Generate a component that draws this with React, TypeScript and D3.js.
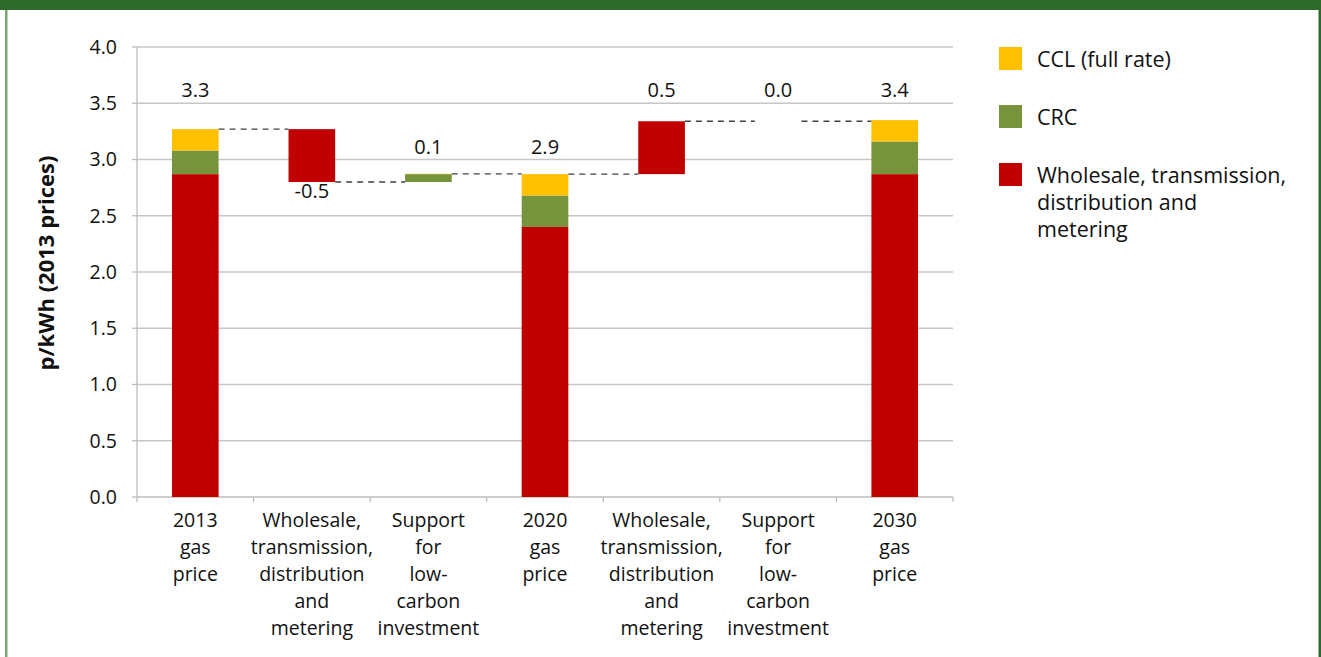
import { useEffect } from 'react';
import * as d3 from 'd3';

// categories (label lines) and bar types
const categories: string[][] = [
  ['2013', 'gas', 'price'],
  ['Wholesale,', 'transmission,', 'distribution', 'and', 'metering'],
  ['Support', 'for', 'low-', 'carbon', 'investment'],
  ['2020', 'gas', 'price'],
  ['Wholesale,', 'transmission,', 'distribution', 'and', 'metering'],
  ['Support', 'for', 'low-', 'carbon', 'investment'],
  ['2030', 'gas', 'price'],
];
const barKind = ['total', 'delta', 'delta', 'total', 'delta', 'delta', 'total'];

// series values (p/kWh, 2013 prices); for delta bars these are changes
const wholesaleValues = [2.87, -0.47, 0, 2.40, 0.47, 0, 2.87];
const crcValues = [0.21, 0, 0.07, 0.28, 0, 0, 0.29];
const cclValues = [0.19, 0, 0.003, 0.19, 0, 0, 0.19];

const valueLabels = ['3.3', '-0.5', '0.1', '2.9', '0.5', '0.0', '3.4'];
const labelAt = [3.62, 2.72, 3.11, 3.11, 3.62, 3.62, 3.62];

const yTicks = [0, 0.5, 1.0, 1.5, 2.0, 2.5, 3.0, 3.5, 4.0];

const seriesNames = ['CCL (full rate)', 'CRC', 'Wholesale, transmission, distribution and metering'];
const legendLines = [['CCL (full rate)'], ['CRC'], ['Wholesale, transmission,', 'distribution and', 'metering']];
const colors = ['#FFC000', '#77933C', '#C00000'];

const W = 1321;
const H = 657;
const FONT = '"Open Sans", sans-serif';

export default function App() {
  useEffect(() => {
    document.body.style.margin = '0';
  }, []);

  const x = d3.scaleBand<number>()
    .domain(d3.range(categories.length))
    .range([137, 953])
    .paddingInner(0.6)
    .paddingOuter(0.3);
  const band = (953 - 137) / categories.length;
  const y = d3.scaleLinear().domain([0, 4]).range([497, 47]);

  // build segments: stacked for totals, floating for deltas
  type Seg = { i: number; y0: number; y1: number; color: string };
  const segs: Seg[] = [];
  const levels: number[] = [];
  let level = 0;
  categories.forEach((_, i) => {
    const parts = [wholesaleValues[i], crcValues[i], cclValues[i]];
    const cols = [colors[2], colors[1], colors[0]];
    let acc = barKind[i] === 'total' ? 0 : level;
    parts.forEach((v, k) => {
      if (v !== 0) segs.push({ i, y0: acc, y1: acc + v, color: cols[k] });
      acc += v;
    });
    level = acc;
    levels.push(level);
  });

  const bw = x.bandwidth();

  return (
    <svg width={W} height={H} style={{ position: 'absolute', left: 0, top: 0, display: 'block' }} fontFamily={FONT}>
      <rect x={0} y={0} width={W} height={H} fill="#ffffff" />
      {/* frame */}
      <rect x={0} y={0} width={W} height={10} fill="#2d6a2b" />
      <rect x={5} y={10} width={2.5} height={H - 10} fill="#79a571" />
      <rect x={1318.5} y={10} width={2.5} height={H - 10} fill="#2d6a2b" />

      {/* gridlines */}
      {yTicks.filter(t => t > 0).map(t => (
        <line key={t} x1={137} x2={953} y1={y(t)} y2={y(t)} stroke="#c6c6c6" strokeWidth={1.3} />
      ))}
      {/* y axis */}
      <line x1={137} x2={137} y1={y(4)} y2={y(0)} stroke="#bdbdbd" strokeWidth={1.3} />
      {yTicks.map(t => (
        <g key={'yt' + t}>
          <line x1={132} x2={137} y1={y(t)} y2={y(t)} stroke="#bdbdbd" strokeWidth={1.3} />
          <text x={117} y={y(t)} dy="0.35em" textAnchor="end" fontSize={19.5} fill="#111">{d3.format('.1f')(t)}</text>
        </g>
      ))}
      {/* x axis */}
      <line x1={137} x2={953} y1={y(0)} y2={y(0)} stroke="#bdbdbd" strokeWidth={1.3} />
      {d3.range(categories.length + 1).map(k => (
        <line key={'xt' + k} x1={137 + k * band} x2={137 + k * band} y1={y(0)} y2={y(0) + 5} stroke="#bdbdbd" strokeWidth={1.3} />
      ))}

      {/* bars */}
      {segs.map((s, k) => (
        <rect key={'s' + k}
          x={x(s.i)!}
          y={y(Math.max(s.y0, s.y1))}
          width={bw}
          height={Math.abs(y(s.y0) - y(s.y1))}
          fill={s.color} />
      ))}

      {/* connectors */}
      {levels.slice(0, -1).map((lv, i) => (
        <line key={'c' + i}
          x1={x(i)! + bw} x2={x(i + 1)!}
          y1={y(lv)} y2={y(lv)}
          stroke="#404040" strokeWidth={1.3} strokeDasharray="6,5" />
      ))}

      {/* value labels */}
      {valueLabels.map((lab, i) => (
        <text key={'v' + i} x={x(i)! + bw / 2} y={y(labelAt[i])} dy="0.35em" textAnchor="middle" fontSize={20} fill="#111">{lab}</text>
      ))}

      {/* category labels */}
      {categories.map((lines, i) => (
        <text key={'cat' + i} x={x(i)! + bw / 2} y={520} textAnchor="middle" fontSize={19.5} fill="#111">
          {lines.map((ln, j) => (
            <tspan key={j} x={x(i)! + bw / 2} y={520 + j * 27} dy="0.35em">{ln}</tspan>
          ))}
        </text>
      ))}

      {/* y title */}
      <text transform={`translate(46,${263}) rotate(-90)`} textAnchor="middle" dy="0.35em" fontSize={22} fontWeight="bold" fill="#111">p/kWh (2013 prices)</text>

      {/* legend */}
      {seriesNames.map((name, k) => (
        <g key={name} transform={`translate(999,${47 + k * 58})`}>
          <rect x={0} y={0} width={23} height={23} fill={colors[k]} />
          <text x={38} y={12} fontSize={21.5} fill="#111">
            {legendLines[k].map((ln, j) => (
              <tspan key={j} x={38} y={12 + j * 27} dy="0.35em">{ln}</tspan>
            ))}
          </text>
        </g>
      ))}
    </svg>
  );
}
